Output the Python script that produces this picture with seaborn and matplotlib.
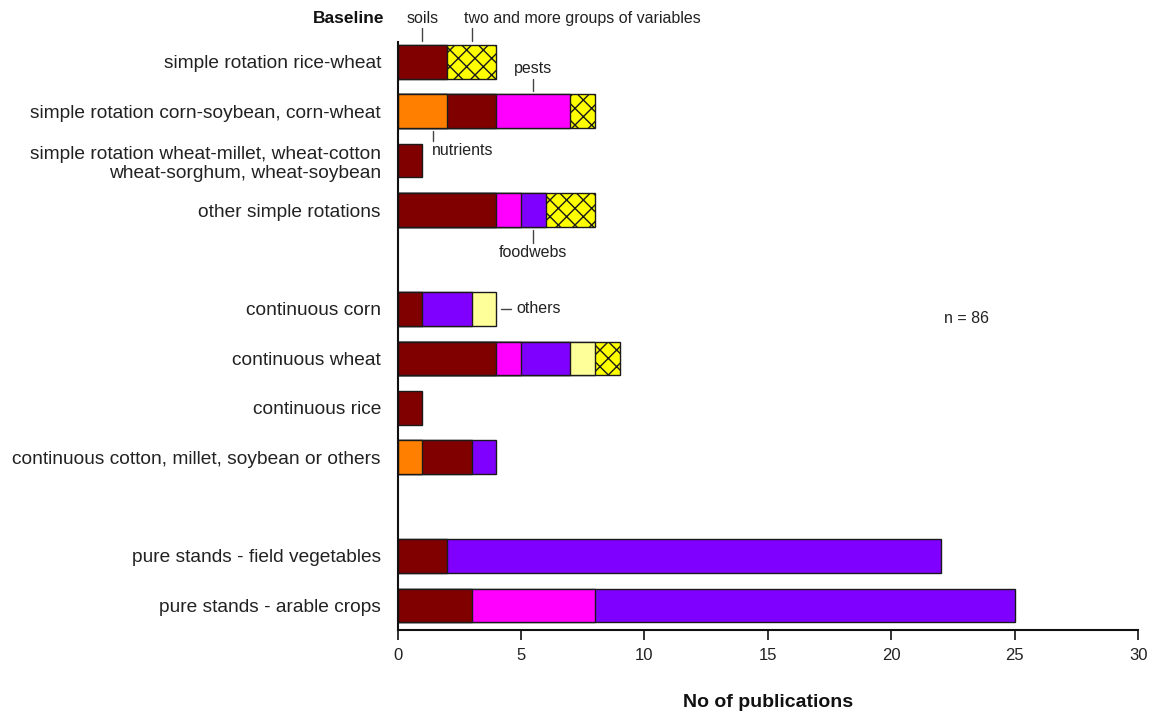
import matplotlib
matplotlib.use("Agg")
import matplotlib.pyplot as plt
import seaborn as sns
import pandas as pd
import numpy as np

sns.set_theme(style="white")
plt.rcParams["font.family"] = ["Liberation Sans", "DejaVu Sans"]
plt.rcParams["hatch.linewidth"] = 1.0

baselines = [
    "simple rotation rice-wheat",
    "simple rotation corn-soybean, corn-wheat",
    "simple rotation wheat-millet, wheat-cotton\nwheat-sorghum, wheat-soybean",
    "other simple rotations",
    "continuous corn",
    "continuous wheat",
    "continuous rice",
    "continuous cotton, millet, soybean or others",
    "pure stands - field vegetables",
    "pure stands - arable crops",
]
# row order on the axis; blank slots separate the three baseline groups
row_order = baselines[:4] + [" "] + baselines[4:8] + ["  "] + baselines[8:]

groups = ["nutrients", "soils", "pests", "foodwebs", "others",
          "two and more groups of variables"]
nutrients = [0, 2, 0, 0, 0, 0, 0, 1, 0, 0]
soils     = [2, 2, 1, 4, 1, 4, 1, 2, 2, 3]
pests     = [0, 3, 0, 1, 0, 1, 0, 0, 0, 5]
foodwebs  = [0, 0, 0, 1, 2, 2, 0, 1, 20, 17]
others    = [0, 0, 0, 0, 1, 1, 0, 0, 0, 0]
multiple  = [2, 1, 0, 2, 0, 1, 0, 0, 0, 0]
n_total = 86

colors = {
    "nutrients": "#FF8000",
    "soils": "#800000",
    "pests": "#FF00FF",
    "foodwebs": "#8000FF",
    "others": "#FFFF99",
    "two and more groups of variables": "#FFFF00",
}

series = [nutrients, soils, pests, foodwebs, others, multiple]
rows = []
for g, vals in zip(groups, series):
    for b, v in zip(baselines, vals):
        rows.append(dict(baseline=b, group=g, count=v))
df = pd.DataFrame(rows)
df["end"] = df.groupby("baseline", sort=False)["count"].cumsum()

fig = plt.figure(figsize=(11.56, 7.12), dpi=100)
ax = fig.add_axes([0.344, 0.115, 0.6405, 0.826])

# stacked bars: draw cumulative ends from the outermost group inwards
for g in reversed(groups):
    sub = df[(df["group"] == g) & (df["count"] > 0)]
    if sub.empty:
        continue
    sns.barplot(data=sub, x="end", y="baseline", order=row_order, orient="y",
                color=colors[g], edgecolor="#1a1a1a", linewidth=1.0,
                width=0.68, saturation=1, errorbar=None, ax=ax,
                hatch="xx" if g == groups[-1] else None)

ax.set_xlim(0, 30)
ax.set_ylim(11.5, -0.4)
ax.set_xticks(np.arange(0, 31, 5))
ax.tick_params(axis="y", length=0, pad=12, labelsize=13.8, labelcolor="#222222")
ax.tick_params(axis="x", direction="out", length=7, width=1.3,
               labelsize=12, pad=6, colors="#222222", bottom=True)
for s in ["top", "right"]:
    ax.spines[s].set_visible(False)
for s in ["left", "bottom"]:
    ax.spines[s].set_color("#111111")
    ax.spines[s].set_linewidth(1.5)

ax.set_xlabel("No of publications", fontsize=14, fontweight="bold",
              labelpad=22, color="#111111")
ax.set_ylabel("")

ax.text(-0.52, -0.87, "Baseline", ha="right", va="center", fontsize=12.5,
        fontweight="bold", color="#111111", clip_on=False)

lc = "#444444"
tk = dict(fontsize=11.5, color="#222222", clip_on=False)
# group annotations with leader lines
ax.plot([1.0, 1.0], [-0.68, -0.42], color=lc, lw=1, clip_on=False)
ax.text(1.0, -0.87, "soils", ha="center", va="center", **tk)
ax.plot([3.0, 3.0], [-0.68, -0.42], color=lc, lw=1, clip_on=False)
ax.text(2.68, -0.87, "two and more groups of variables", ha="left", va="center", **tk)
ax.plot([5.5, 5.5], [0.35, 0.6], color=lc, lw=1)
ax.text(5.5, 0.14, "pests", ha="center", va="center", **tk)
ax.plot([1.45, 1.45], [1.4, 1.6], color=lc, lw=1)
ax.text(1.38, 1.8, "nutrients", ha="left", va="center", **tk)
ax.plot([5.5, 5.5], [3.41, 3.66], color=lc, lw=1)
ax.text(5.5, 3.86, "foodwebs", ha="center", va="center", **tk)
ax.plot([4.2, 4.6], [5.0, 5.0], color=lc, lw=1)
ax.text(4.8, 5.0, "others", ha="left", va="center", **tk)
ax.text(23.05, 5.2, f"n = {n_total}", ha="center", va="center", **tk)

fig.savefig("out.png", dpi=100)
